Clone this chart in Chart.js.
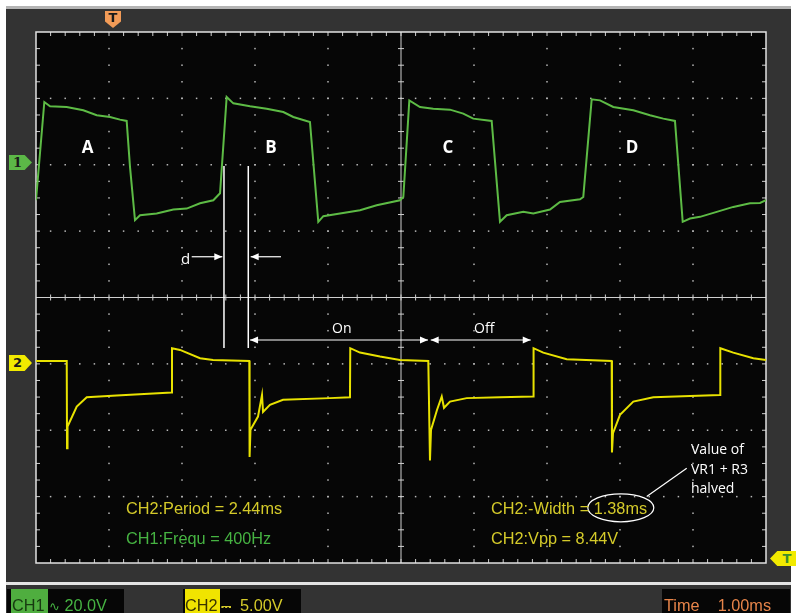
<!DOCTYPE html>
<html>
<head>
<meta charset="utf-8">
<script src="https://cdn.jsdelivr.net/npm/chart.js@4.4.1/dist/chart.umd.min.js"></script>
<style>
  body { margin: 0; background: #fff; width: 796px; height: 613px; overflow: hidden; position: relative; font-family: 'Liberation Sans', Arial, sans-serif; }
  .abs { position: absolute; white-space: nowrap; line-height: 1; }
  #frame { position: absolute; left: 6px; top: 6px; width: 785px; height: 576px; background: #333; border-top: 3px solid #b4b4b4; box-sizing: border-box; }
  #bar { position: absolute; left: 6px; top: 582px; width: 785px; height: 31px; background: #333; border-top: 3px solid #e4e4e4; box-sizing: border-box; }
  .box { position: absolute; top: 589px; height: 24px; background: #060606; }
  #scope { position: absolute; left: 0; top: 0; }
  .mark { position: absolute; font: bold 13px 'DejaVu Sans', sans-serif; text-align: center; color: #1a1a1a; }
  .big { font: bold 17px 'Open Sans', sans-serif; color: #fff; transform: translate(-50%, -50%); }
  .note { font: 14px 'Open Sans', sans-serif; color: #fff; }
  .meas { font-size: 16.3px; }
  .yel { color: #d4ca2a; }
  .grn { color: #46b342; }
  .stat { font-size: 16.3px; top: 597px; }
</style>
</head>
<body>
<div id="frame"></div>
<div id="bar"></div>
<div class="box" style="left:7px;width:117px"></div>
<div class="box" style="left:183px;width:118px"></div>
<div class="box" style="left:662px;width:128px"></div>

<canvas id="scope" width="796" height="613"></canvas>

<!-- channel / trigger markers -->
<div class="mark" style="left:105px;top:11px;width:16px;height:17px;background:#f29b57;clip-path:polygon(0 0,100% 0,100% 62%,50% 100%,0 62%);line-height:13px">T</div>
<div class="mark" style="left:9px;top:155px;width:23px;height:15px;background:#5cb847;clip-path:polygon(0 0,68% 0,100% 50%,68% 100%,0 100%);line-height:15px;text-indent:-6px;font-family:'DejaVu Serif',serif">1</div>
<div class="mark" style="left:9px;top:355px;width:23px;height:16px;background:#f2ea00;clip-path:polygon(0 0,68% 0,100% 50%,68% 100%,0 100%);line-height:16px;text-indent:-6px">2</div>
<div class="mark" style="left:770px;top:551px;width:26px;height:15px;background:#f2ea00;clip-path:polygon(0 50%,28% 0,100% 0,100% 100%,28% 100%);line-height:15px;text-indent:8px;color:#3d8d2c">T</div>

<!-- pulse labels -->
<div class="abs big" style="left:87.5px;top:146px">A</div>
<div class="abs big" style="left:271px;top:146px">B</div>
<div class="abs big" style="left:448px;top:146px">C</div>
<div class="abs big" style="left:632px;top:146px">D</div>

<div class="abs note" style="left:181px;top:248px;font-size:15px">d</div>
<div class="abs note" style="left:332px;top:318px">On</div>
<div class="abs note" style="left:474px;top:318px">Off</div>
<div class="abs note" style="left:691px;top:439px;line-height:19.5px">Value of<br>VR1 + R3<br>halved</div>

<!-- measurements -->
<div class="abs meas yel" style="left:126px;top:500px">CH2:Period = 2.44ms</div>
<div class="abs meas grn" style="left:126px;top:530px">CH1:Frequ = 400Hz</div>
<div class="abs meas yel" style="left:491px;top:500px">CH2:-Width = 1.38ms</div>
<div class="abs meas yel" style="left:491px;top:530px">CH2:Vpp = 8.44V</div>

<!-- status bar -->
<div class="abs stat" style="left:11px;top:589px;height:24px;width:37px;background:#4fae3f"></div>
<div class="abs stat" style="left:12px;color:#173a10">CH1</div>
<div class="abs stat grn" style="left:49px"><span style="font-family:'DejaVu Sans';font-size:13px">∿</span> 20.0V</div>
<div class="abs stat" style="left:185px;top:589px;height:24px;width:35px;background:#f0e400"></div>
<div class="abs stat" style="left:185px;color:#3a3500">CH2</div>
<div class="abs stat yel" style="left:221px"><span style="font-family:'DejaVu Sans';font-size:13px">⎓</span>&nbsp; 5.00V</div>
<div class="abs stat" style="left:664px;color:#e8854a">Time&nbsp;&nbsp;&nbsp; 1.00ms</div>

<script>
// time base 1.00 ms/div, 10 divisions
const timeMin = 0;
const timeMax = 10;

// CH1 (green), 20.0 V/div, ground marker two divisions above centre
const ch1Time = [0, 0.114, 0.192, 0.42, 0.648, 0.832, 1.014, 1.151, 1.242,
  1.288, 1.356, 1.425, 1.653, 1.881, 2.064, 2.247, 2.429, 2.521,
  2.612, 2.703, 2.932, 3.16, 3.388, 3.525, 3.753,
  3.867, 3.936, 4.164, 4.438, 4.667, 4.986,
  5.032, 5.114, 5.26, 5.442, 5.671, 5.853, 5.99, 6.242,
  6.356, 6.448, 6.675, 6.812, 7.041, 7.178, 7.452, 7.497,
  7.612, 7.726, 7.908, 8.182, 8.411, 8.593, 8.753,
  8.859, 8.959, 9.096, 9.325, 9.552, 9.781, 9.918, 10];
const ch1Volts = [-10.7, 18.9, 17.6, 17.4, 16.4, 14.9, 14.4, 13.6, 13.2,
  -0.7, -16.7, -15.2, -14.7, -13.5, -13.2, -11.6, -10.7, -8.6,
  20.4, 18.5, 17.6, 16.9, 15.9, 14.4, 12.9,
  -17.2, -15.5, -14.7, -13.7, -12.2, -10.7,
  -9.7, 19.4, 17.4, 16.9, 16.6, 15.4, 13.9, 13.2,
  -17.2, -15.2, -14.2, -14.7, -13.5, -11.2, -10.4, -9.7,
  19.7, 19.4, 17.4, 16.4, 14.9, 13.9, 13.2,
  -17.2, -16.2, -15.7, -14.2, -12.7, -11.6, -11.5, -10.7];

// CH2 (yellow), 5.00 V/div, ground marker one division below centre
const ch2Time = [0, 0.421, 0.425, 0.432, 0.558, 0.695, 1.105, 1.859,
  1.863, 1.973, 2.247, 2.425, 2.922,
  2.926, 2.938, 3.041, 3.096, 3.11, 3.205, 3.384, 4.027, 4.301,
  4.305, 4.438, 4.712, 4.986, 5.374,
  5.397, 5.411, 5.493, 5.558, 5.589, 5.671, 5.9, 6.356, 6.812,
  6.816, 6.949, 7.27, 7.886,
  7.89, 7.904, 8.0, 8.182, 8.456, 9.37,
  9.374, 9.552, 9.826, 10];
const ch2Volts = [0.22, 0.22, -6.35, -4.72, -3.22, -2.51, -2.39, -2.16,
  1.18, 1.05, 0.43, 0.3, 0.22,
  -7.02, -4.97, -3.97, -2.34, -3.62, -3.09, -2.71, -2.58, -2.51,
  1.18, 0.85, 0.55, 0.3, 0.22,
  -7.28, -4.97, -3.47, -2.46, -3.31, -2.84, -2.58, -2.51, -2.46,
  1.18, 0.85, 0.35, 0.22,
  -6.68, -5.22, -3.84, -2.84, -2.51, -2.34,
  1.18, 0.85, 0.43, 0.3];

// cursor times (ms) for the "d" gap
const cursorTimes = [2.575, 2.908];

function toPoints(xs, ys) {
  return xs.map((t, i) => ({ x: t, y: ys[i] }));
}

// screen divisions -> pixels, using the CH1 axis (20 V/div, 0 V at +2 div)
function divToPx(chart, d) {
  return chart.scales.y1.getPixelForValue((d - 2) * 20);
}

const graticule = {
  id: 'graticule',
  beforeDatasetsDraw(chart) {
    const { ctx, chartArea: a } = chart;
    const xs = chart.scales.x;
    ctx.save();
    ctx.fillStyle = '#060606';
    ctx.fillRect(a.left, a.top, a.right - a.left, a.bottom - a.top);

    // dotted division lines
    ctx.fillStyle = '#b8b8b8';
    for (let i = 1; i < 10; i++) {
      if (i == 5) continue;
      const x = xs.getPixelForValue(i);
      for (let j = 1; j < 32; j++) {
        const y = divToPx(chart, -4 + j * 0.25);
        ctx.fillRect(x - 0.75, y - 0.75, 1.5, 1.5);
      }
    }
    for (let d = -3; d <= 3; d++) {
      if (d == 0) continue;
      const y = divToPx(chart, d);
      for (let k = 1; k < 50; k++) {
        const x = xs.getPixelForValue(k * 0.2);
        ctx.fillRect(x - 0.75, y - 0.75, 1.5, 1.5);
      }
    }

    // centre cross with minor ticks
    const cx = xs.getPixelForValue(5);
    const cy = divToPx(chart, 0);
    ctx.strokeStyle = '#cfcfcf';
    ctx.lineWidth = 1;
    ctx.beginPath();
    ctx.moveTo(cx, a.top); ctx.lineTo(cx, a.bottom);
    ctx.moveTo(a.left, cy); ctx.lineTo(a.right, cy);
    for (let k = 1; k < 50; k++) {
      const x = xs.getPixelForValue(k * 0.2);
      ctx.moveTo(x, cy - 3); ctx.lineTo(x, cy + 3);
      ctx.moveTo(x, a.top); ctx.lineTo(x, a.top + 4);
      ctx.moveTo(x, a.bottom); ctx.lineTo(x, a.bottom - 4);
    }
    for (let j = 1; j < 32; j++) {
      const y = divToPx(chart, -4 + j * 0.25);
      ctx.moveTo(cx - 3, y); ctx.lineTo(cx + 3, y);
      ctx.moveTo(a.left, y); ctx.lineTo(a.left + 4, y);
      ctx.moveTo(a.right, y); ctx.lineTo(a.right - 4, y);
    }
    ctx.stroke();

    // outer border
    ctx.strokeStyle = '#e2e2e2';
    ctx.lineWidth = 1.5;
    ctx.strokeRect(a.left, a.top, a.right - a.left, a.bottom - a.top);
    ctx.restore();
  }
};

function arrowHead(ctx, x, y, dir) {
  ctx.beginPath();
  ctx.moveTo(x, y);
  ctx.lineTo(x - dir * 8, y - 3.5);
  ctx.lineTo(x - dir * 8, y + 3.5);
  ctx.closePath();
  ctx.fill();
}

function arrow(ctx, x1, x2, y, both) {
  ctx.beginPath();
  ctx.moveTo(x1, y); ctx.lineTo(x2, y);
  ctx.stroke();
  arrowHead(ctx, x2, y, x2 > x1 ? 1 : -1);
  if (both) arrowHead(ctx, x1, y, x1 > x2 ? 1 : -1);
}

const notes = {
  id: 'notes',
  afterDatasetsDraw(chart) {
    const { ctx } = chart;
    const xs = chart.scales.x;
    const px = (t) => xs.getPixelForValue(t);
    ctx.save();
    ctx.strokeStyle = '#fff';
    ctx.fillStyle = '#fff';
    ctx.lineWidth = 1.5;

    // cursor lines
    ctx.beginPath();
    cursorTimes.forEach((t) => {
      ctx.moveTo(px(t), divToPx(chart, 1.98));
      ctx.lineTo(px(t), divToPx(chart, -0.76));
    });
    ctx.stroke();

    // d arrows
    const dy = divToPx(chart, 0.614);
    ctx.lineWidth = 1.2;
    arrow(ctx, px(2.133), px(2.552), dy, false);
    arrow(ctx, px(3.356), px(2.941), dy, false);

    // On / Off arrows
    const oy = divToPx(chart, -0.64);
    arrow(ctx, px(2.932), px(5.37), oy, true);
    arrow(ctx, px(5.407), px(6.777), oy, true);

    // ellipse round the width reading
    const ex = px(8.011), ey = divToPx(chart, -3.168);
    ctx.beginPath();
    ctx.ellipse(ex, ey, 33, 14, 0, 0, Math.PI * 2);
    ctx.stroke();
    ctx.beginPath();
    ctx.moveTo(px(8.366), divToPx(chart, -2.998));
    ctx.lineTo(px(8.914), divToPx(chart, -2.571));
    ctx.stroke();
    ctx.restore();
  }
};

const config = {
  type: 'line',
  data: {
    datasets: [
      {
        label: 'CH1',
        data: toPoints(ch1Time, ch1Volts),
        yAxisID: 'y1',
        borderColor: '#5dbb45',
        borderWidth: 2,
        pointRadius: 0,
        tension: 0,
      },
      {
        label: 'CH2',
        data: toPoints(ch2Time, ch2Volts),
        yAxisID: 'y2',
        borderColor: '#e8e200',
        borderWidth: 2,
        pointRadius: 0,
        tension: 0,
      },
    ],
  },
  options: {
    responsive: false,
    animation: false,
    devicePixelRatio: 1,
    layout: { padding: { left: 36, top: 32, right: 30, bottom: 50 } },
    plugins: {
      legend: { display: false },
      tooltip: { enabled: false },
    },
    scales: {
      x: { type: 'linear', min: timeMin, max: timeMax, display: false },
      y1: { type: 'linear', min: -120, max: 40, display: false },
      y2: { type: 'linear', min: -15, max: 25, display: false },
    },
  },
  plugins: [graticule, notes],
};

var ctx = document.getElementById('scope');
var scopeChart = new Chart(ctx, config);
</script>
</body>
</html>
